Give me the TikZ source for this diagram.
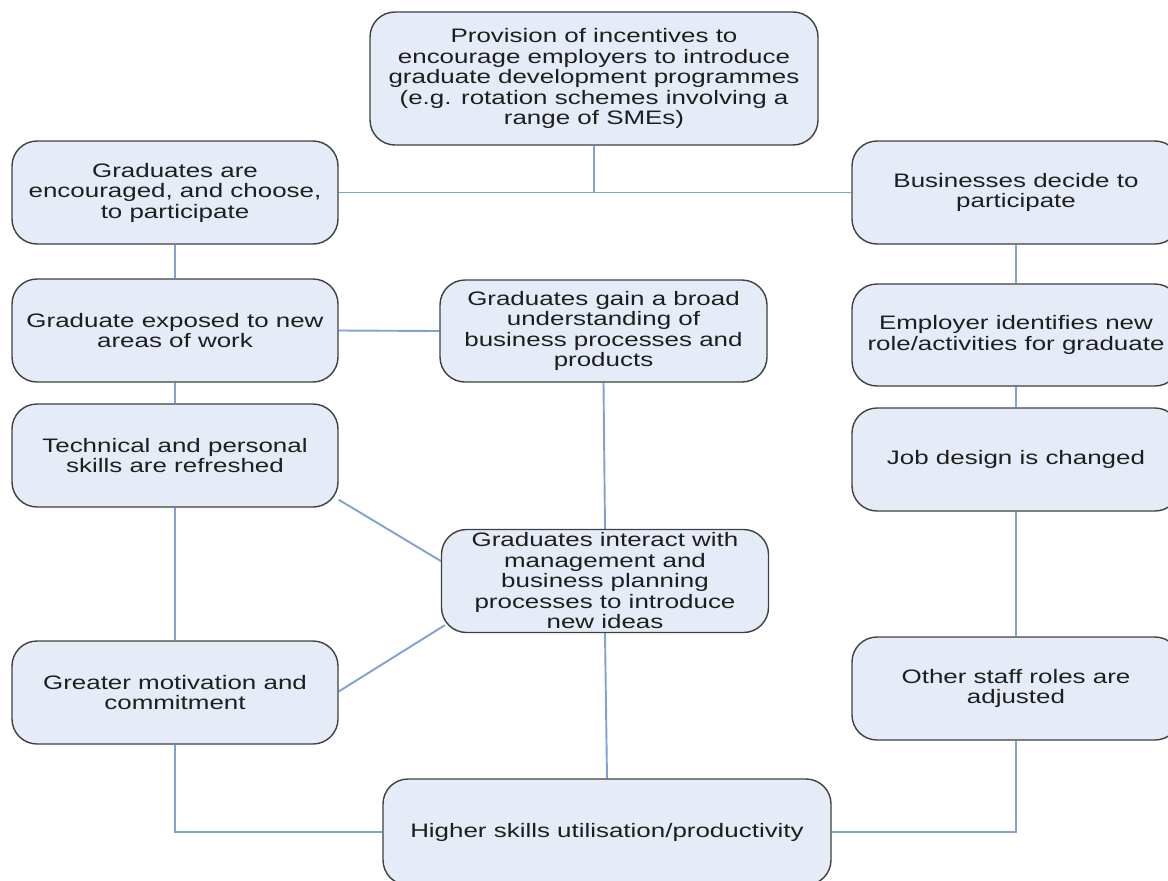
\documentclass[tikz,border=0pt]{standalone}
\usepackage{fontspec}
\setmainfont{Liberation Sans}[FakeStretch=1.33]
\usetikzlibrary{backgrounds}
\definecolor{boxfill}{RGB}{230,236,247}
\definecolor{boxline}{RGB}{64,64,64}
\definecolor{connline}{RGB}{128,160,214}
\definecolor{txt}{RGB}{30,30,30}
\tikzset{
  box/.style={draw=boxline, fill=boxfill, line width=1.4pt, rounded corners=25pt,
    align=center, inner sep=0pt, text=txt,
    font=\fontsize{19.5}{20.5}\selectfont},
  conn/.style={draw=connline, line width=1.9pt}
}
\begin{document}
\begin{tikzpicture}[x=1pt,y=-1pt]
\clip (0,0) rectangle (1168,881);

\node[box, minimum width=448pt, minimum height=133pt] (top) at (594,78.5)
  {Provision of incentives to\\encourage employers to introduce\\graduate development programmes\\(e.g. rotation schemes involving a\\range of SMEs)};

\node[box, minimum width=326pt, minimum height=103pt] (ge) at (175,192.5)
  {Graduates are\\encouraged, and choose,\\to participate};
\node[box, minimum width=328pt, minimum height=103pt] (bd) at (1016,192.5)
  {Businesses decide to\\participate};

\node[box, minimum width=326pt, minimum height=103pt] (gx) at (175,330.5)
  {Graduate exposed to new\\areas of work};
\node[box, minimum width=327pt, minimum height=102pt] (gb) at (603.5,331)
  {Graduates gain a broad\\understanding of\\business processes and\\products};
\node[box, minimum width=328pt, minimum height=102pt] (ei) at (1016,335)
  {Employer identifies new\\role/activities for graduate};

\node[box, minimum width=326pt, minimum height=103pt] (tp) at (175,455.5)
  {Technical and personal\\skills are refreshed};
\node[box, minimum width=328pt, minimum height=103pt] (jd) at (1016,459.5)
  {Job design is changed};

\node[box, minimum width=327pt, minimum height=103pt] (gi) at (605,581)
  {Graduates interact with\\management and\\business planning\\processes to introduce\\new ideas};

\node[box, minimum width=326pt, minimum height=103pt] (gm) at (175,692.5)
  {Greater motivation and\\commitment};
\node[box, minimum width=328pt, minimum height=103pt] (os) at (1016,688.5)
  {Other staff roles are\\adjusted};

\node[box, minimum width=448pt, minimum height=106pt] (hs) at (607,832)
  {Higher skills utilisation/productivity};

\begin{scope}[on background layer]
  \draw[conn] (top.south) -- (top.south |- ge.east);
  \draw[conn] (ge.east) -- (bd.west);
  \draw[conn] (ge.south) -- (gx.north);
  \draw[conn] (gx.south) -- (tp.north);
  \draw[conn] (tp.south) -- (gm.north);
  \draw[conn] (gm.south) -- (gm.south |- hs.west) -- (hs.west);
  \draw[conn] (bd.south) -- (ei.north);
  \draw[conn] (ei.south) -- (jd.north);
  \draw[conn] (jd.south) -- (os.north);
  \draw[conn] (os.south) -- (os.south |- hs.east) -- (hs.east);
  \draw[conn] (gx.east) -- (gb.west);
  \draw[conn] (gb.south) -- (gi.north);
  \draw[conn] (gi.south) -- (hs.north);
  \draw[conn] ([yshift=8pt]tp.south east) -- ([yshift=20pt]gi.west);
  \draw[conn] ([yshift=1pt]gm.east) -- ([shift={(4pt,8pt)}]gi.south west);
\end{scope}
\end{tikzpicture}
\end{document}
